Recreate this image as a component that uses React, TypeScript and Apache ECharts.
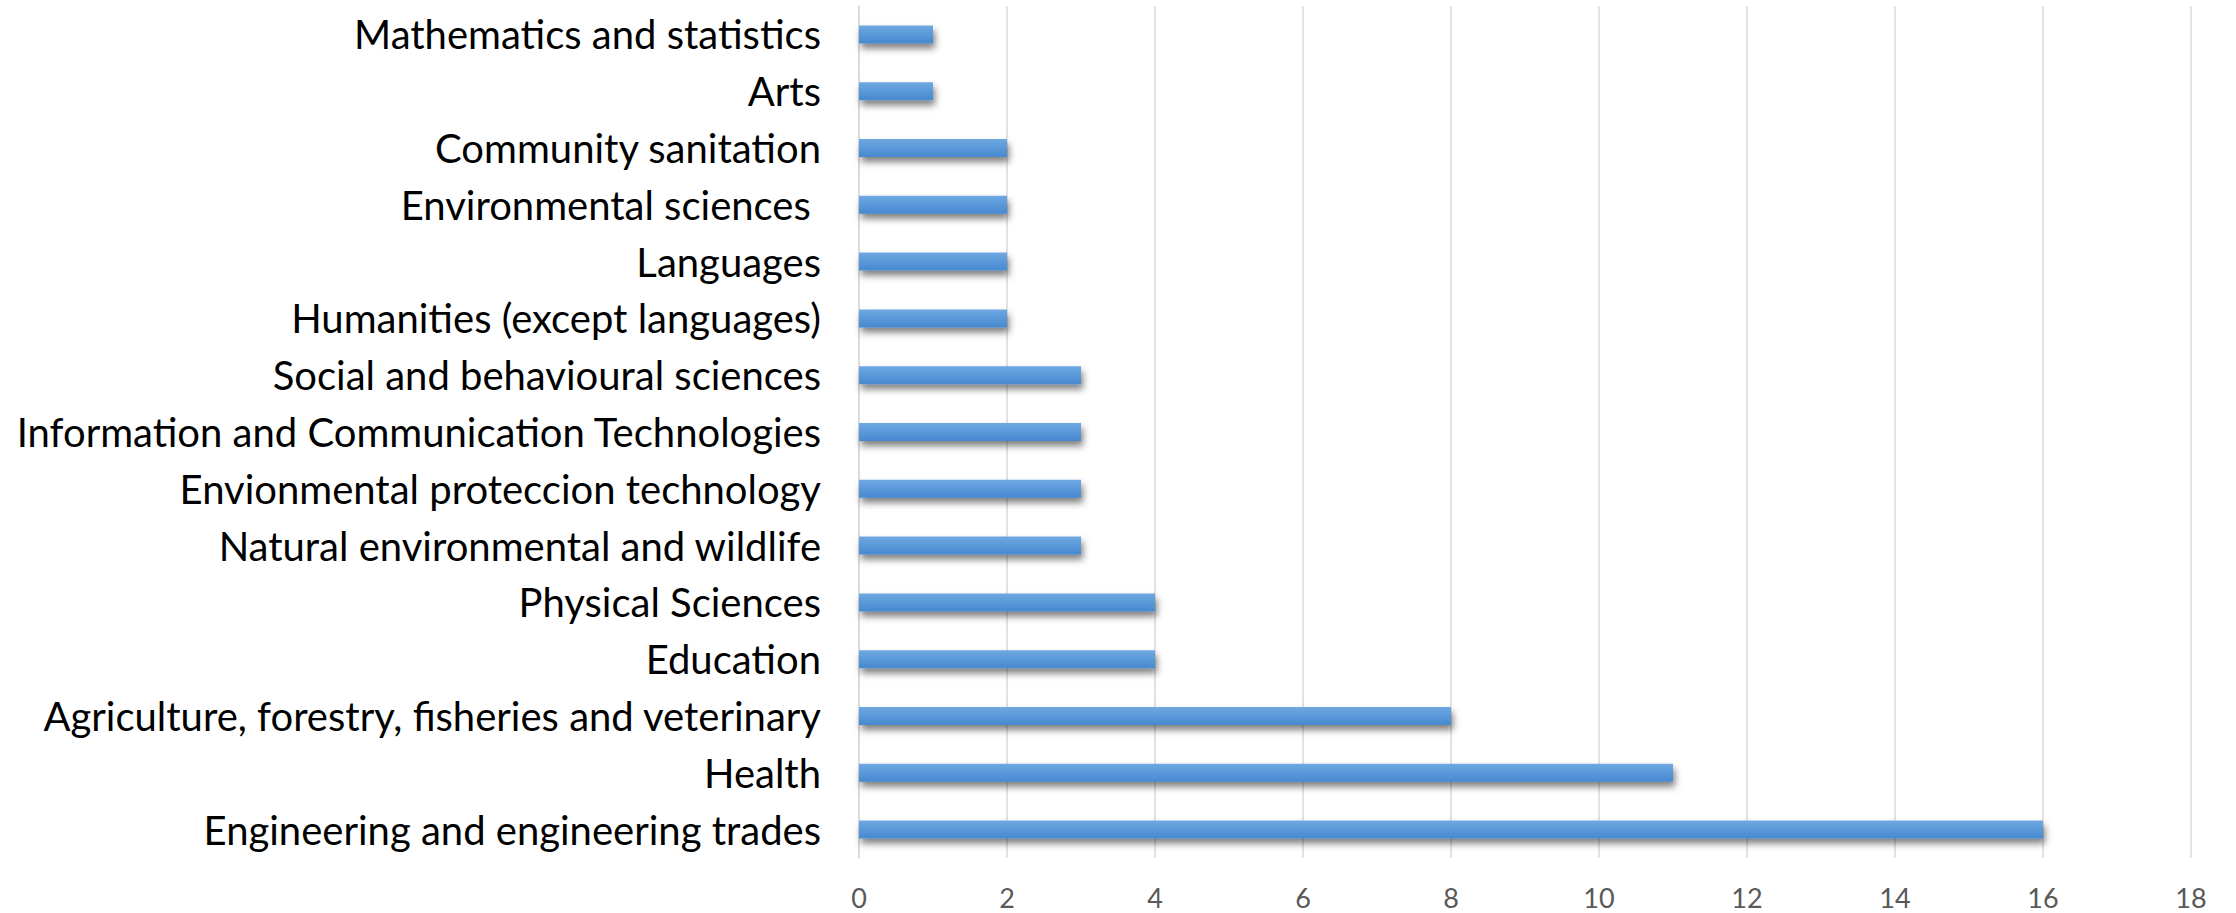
import React, { useEffect, useRef } from "react";
import * as echarts from "echarts";

const categories = [
  "Engineering and engineering trades",
  "Health",
  "Agriculture, forestry, fisheries and veterinary",
  "Education",
  "Physical Sciences",
  "Natural environmental and wildlife",
  "Envionmental proteccion technology",
  "Information and Communication Technologies",
  "Social and behavioural sciences",
  "Humanities (except languages)",
  "Languages",
  "Environmental sciences ",
  "Community sanitation",
  "Arts",
  "Mathematics and statistics",
];
const values = [16, 11, 8, 4, 4, 3, 3, 3, 3, 2, 2, 2, 2, 1, 1];
const xTicks = { min: 0, max: 18, interval: 2 };

export default function App() {
  const ref = useRef<HTMLDivElement>(null);
  useEffect(() => {
    if (!ref.current) return;
    const chart = echarts.init(ref.current, undefined, { renderer: "svg" });
    chart.setOption({
      animation: false,
      backgroundColor: "#ffffff",
      grid: { left: 859, right: 45, top: 6, bottom: 55, containLabel: false },
      xAxis: {
        type: "value",
        min: xTicks.min,
        max: xTicks.max,
        interval: xTicks.interval,
        axisLine: { show: false },
        axisTick: { show: false },
        splitLine: { show: true, lineStyle: { color: "#d9d9d9", width: 1.5 } },
        axisLabel: {
          color: "#595959",
          fontSize: 27,
          fontFamily: "Lato, 'Open Sans', sans-serif",
          margin: 26,
        },
      },
      yAxis: {
        type: "category",
        data: categories,
        axisLine: { show: true, lineStyle: { color: "#d9d9d9", width: 1.5 } },
        axisTick: { show: false },
        axisLabel: {
          color: "#000000",
          fontSize: 40,
          fontFamily: "Lato, 'Open Sans', sans-serif",
          margin: 38,
        },
      },
      series: [
        {
          type: "bar",
          data: values,
          barWidth: 18,
          itemStyle: {
            color: new echarts.graphic.LinearGradient(0, 0, 0, 1, [
              { offset: 0, color: "#6fa8e2" },
              { offset: 1, color: "#4689d0" },
            ]),
            shadowColor: "rgba(0,0,0,0.5)",
            shadowBlur: 7,
            shadowOffsetX: 2,
            shadowOffsetY: 5,
          },
        },
      ],
    });
    return () => chart.dispose();
  }, []);
  return (
    <div
      ref={ref}
      style={{ position: "fixed", left: 0, top: 0, width: 2236, height: 913 }}
    />
  );
}
